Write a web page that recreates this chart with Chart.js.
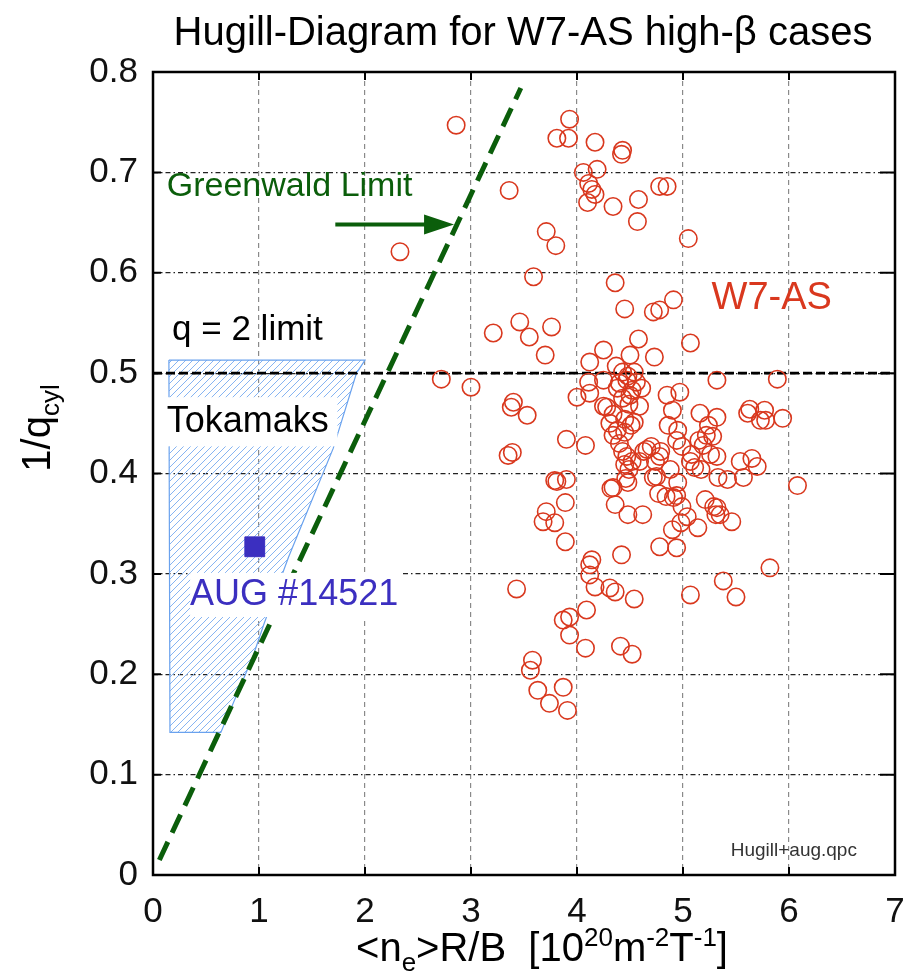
<!DOCTYPE html>
<html>
<head>
<meta charset="utf-8">
<script src="https://cdn.jsdelivr.net/npm/chart.js@4.4.0/dist/chart.umd.min.js"></script>
<style>
html, body { margin: 0; padding: 0; background: #fff; }
canvas { display: block; }
</style>
</head>
<body>
<canvas id="myChart" width="904" height="977"></canvas>
<script>
// W7-AS high-beta discharges
const w7as_x = [
  2.86, 3.93, 3.81, 3.92, 4.17, 4.43, 4.42, 4.06, 4.19, 4.11, 4.14, 4.17, 4.10, 4.34, 4.58, 4.57, 4.78, 4.85,
  3.36, 3.71, 3.80, 5.05, 2.33, 3.59, 4.36, 4.45, 4.72, 4.78, 4.91, 3.21, 3.46, 3.55, 3.76, 3.70, 4.58, 4.25,
  4.50, 4.73, 5.07, 4.12, 2.72, 3.00, 5.32, 5.89, 4.97,
  4.37, 4.43, 4.54, 4.47, 4.56, 4.38, 4.52, 4.61, 4.11, 4.25, 4.00, 4.12, 4.25, 4.43, 4.49, 4.59, 4.85, 4.48,
  4.40, 4.50, 4.28, 4.31, 4.34, 4.34, 4.45, 4.54, 4.38, 4.45, 4.51, 4.40,
  3.40, 3.38, 3.53, 3.90, 4.08, 3.35, 3.39,
  4.90, 5.16, 5.32, 5.61, 5.63, 5.77, 5.94, 5.73, 5.78, 4.86, 5.24, 4.95, 5.28, 4.94, 5.19, 5.15, 5.22, 4.70,
  4.79, 4.99, 4.66, 5.26, 5.08, 5.07, 5.11, 5.17, 5.32, 5.54, 5.70, 5.65, 5.33, 5.42, 5.57, 6.08,
  4.43, 4.47, 4.45, 4.52, 4.49, 4.59, 4.63, 4.74, 4.78, 4.48, 4.46, 4.34, 4.72, 4.75, 4.88, 4.95, 4.84, 4.77,
  4.91, 4.94, 5.21, 5.29, 5.32, 5.35, 5.31, 5.46, 4.99, 5.04, 4.98, 5.14, 4.90, 4.62, 4.48, 4.36, 4.32,
  3.79, 3.90, 3.81, 3.89, 3.71, 3.68, 3.79, 3.89, 4.78, 4.94, 4.42, 4.14, 5.82, 5.38, 4.12, 4.12, 4.17, 4.31,
  4.36, 3.43, 4.54, 5.07, 5.50, 4.09, 3.87, 3.93, 3.93, 4.08, 4.41, 4.52, 3.58, 3.56, 3.63, 3.87, 3.74, 3.91
]
const w7as_y = [
  0.747, 0.753, 0.734, 0.734, 0.730, 0.722, 0.718, 0.700, 0.703, 0.689, 0.683, 0.678, 0.670, 0.666, 0.673, 0.651, 0.686, 0.686,
  0.682, 0.641, 0.627, 0.634, 0.621, 0.596, 0.590, 0.564, 0.561, 0.563, 0.573, 0.540, 0.551, 0.536, 0.546, 0.518, 0.534, 0.523,
  0.518, 0.516, 0.530, 0.511, 0.494, 0.486, 0.493, 0.494, 0.481,
  0.507, 0.501, 0.501, 0.493, 0.491, 0.485, 0.483, 0.485, 0.491, 0.493, 0.476, 0.480, 0.467, 0.475, 0.469, 0.467, 0.478, 0.497,
  0.490, 0.478, 0.466, 0.450, 0.438, 0.459, 0.454, 0.451, 0.443, 0.441, 0.448, 0.430,
  0.471, 0.466, 0.458, 0.434, 0.428, 0.418, 0.421,
  0.463, 0.460, 0.456, 0.460, 0.464, 0.463, 0.455, 0.453, 0.453, 0.448, 0.448, 0.443, 0.437, 0.433, 0.428, 0.433, 0.438, 0.427,
  0.422, 0.427, 0.424, 0.419, 0.419, 0.412, 0.406, 0.404, 0.417, 0.412, 0.407, 0.415, 0.396, 0.394, 0.396, 0.388,
  0.422, 0.417, 0.409, 0.412, 0.404, 0.412, 0.422, 0.412, 0.417, 0.391, 0.395, 0.386, 0.396, 0.397, 0.404, 0.391, 0.377, 0.380,
  0.376, 0.378, 0.374, 0.367, 0.366, 0.359, 0.359, 0.352, 0.367, 0.357, 0.351, 0.346, 0.344, 0.359, 0.359, 0.369, 0.385,
  0.393, 0.394, 0.392, 0.371, 0.362, 0.352, 0.351, 0.332, 0.327, 0.326, 0.319, 0.314, 0.306, 0.293, 0.309, 0.299, 0.287, 0.286,
  0.282, 0.285, 0.275, 0.279, 0.277, 0.264, 0.254, 0.257, 0.239, 0.226, 0.228, 0.220, 0.214, 0.204, 0.184, 0.187, 0.171, 0.164
]

// AUG discharge #14521
const aug_x = [0.96]
const aug_y = [0.327]

// Greenwald limit line
const greenwald_x = [0.06, 3.47]
const greenwald_y = [0.015, 0.784]

// q = 2 limit
const q2_x = [0, 7]
const q2_y = [0.5, 0.5]

// tokamak operating region (closed outline)
const tok_x = [0.15, 2.0, 1.92, 1.70, 1.28, 1.05, 0.94, 0.64, 0.16, 0.15]
const tok_y = [0.513, 0.513, 0.500, 0.425, 0.317, 0.251, 0.217, 0.142, 0.142, 0.513]

const x_ticks = [0, 1, 2, 3, 4, 5, 6, 7]
const y_ticks = [0, 0.1, 0.2, 0.3, 0.4, 0.5, 0.6, 0.7, 0.8]

const FONT = 'Liberation Sans, Arial, Helvetica, sans-serif'
const GREEN = '#0b5e0b'
const RED = '#d9381e'
const BLUE = '#3b2fc0'

const pts = (xs, ys) => xs.map((v, i) => ({x: v, y: ys[i]}))

// hatch pattern for the tokamak region
const canvas = document.getElementById('myChart')
const ctx = canvas.getContext('2d')
const pat = document.createElement('canvas')
pat.width = 7
pat.height = 7
const pc = pat.getContext('2d')
pc.strokeStyle = '#86b4f2'
pc.lineWidth = 1
pc.beginPath()
pc.moveTo(0, 7); pc.lineTo(7, 0)
pc.moveTo(-1, 1); pc.lineTo(1, -1)
pc.moveTo(6, 8); pc.lineTo(8, 6)
pc.stroke()
const hatch = ctx.createPattern(pat, 'repeat')

// white boxes under labels [xmin, xmax, ymin, ymax]
const boxes = [
  [0.12, 1.74, 0.427, 0.476],
  [0.35, 2.35, 0.257, 0.301]
]

// free labels: text, x, y, colour, size
const notes = [
  ['Greenwald Limit', 0.13, 0.686, GREEN, 34],
  ['q = 2 limit', 0.18, 0.543, '#000', 35],
  ['Tokamaks', 0.13, 0.451, '#000', 36],
  ['AUG #14521', 0.35, 0.279, BLUE, 36],
  ['W7-AS', 5.27, 0.574, RED, 38],
  ['Hugill+aug.qpc', 5.45, 0.024, '#333', 19]
]

function drawPieces(c, pieces, x, y) {
  let cx = x
  pieces.forEach(p => {
    c.font = p[1] + 'px ' + FONT
    c.fillText(p[0], cx, y + p[2])
    cx += c.measureText(p[0]).width
  })
}
function piecesWidth(c, pieces) {
  let w = 0
  pieces.forEach(p => {
    c.font = p[1] + 'px ' + FONT
    w += c.measureText(p[0]).width
  })
  return w
}

const decor = {
  id: 'decor',
  afterDatasetsDraw(chart) {
    const {ctx, chartArea: a, scales: {x, y}} = chart
    ctx.save()
    ctx.fillStyle = '#fff'
    boxes.forEach(b => {
      const x0 = x.getPixelForValue(b[0]), x1 = x.getPixelForValue(b[1])
      const yt = y.getPixelForValue(b[3]), yb = y.getPixelForValue(b[2])
      ctx.fillRect(x0, yt, x1 - x0, yb - yt)
    })
    // inner ticks
    ctx.strokeStyle = '#000'
    ctx.lineWidth = 2
    ctx.beginPath()
    x_ticks.forEach(v => {
      const px = x.getPixelForValue(v)
      ctx.moveTo(px, a.bottom); ctx.lineTo(px, a.bottom - 8)
      ctx.moveTo(px, a.top); ctx.lineTo(px, a.top + 8)
    })
    y_ticks.forEach(v => {
      const py = y.getPixelForValue(v)
      ctx.moveTo(a.left, py); ctx.lineTo(a.left + 8, py)
      ctx.moveTo(a.right, py); ctx.lineTo(a.right - 15, py)
    })
    ctx.stroke()
    // frame
    ctx.lineWidth = 2.5
    ctx.strokeRect(a.left, a.top, a.right - a.left, a.bottom - a.top)
    ctx.restore()
  },
  afterDraw(chart) {
    const {ctx, chartArea: a, scales: {x, y}} = chart
    ctx.save()
    ctx.textBaseline = 'middle'
    ctx.textAlign = 'left'
    notes.forEach(n => {
      ctx.font = n[4] + 'px ' + FONT
      ctx.fillStyle = n[3]
      ctx.fillText(n[0], x.getPixelForValue(n[1]), y.getPixelForValue(n[2]))
    })
    // arrow pointing at the Greenwald line
    const ax0 = x.getPixelForValue(1.72), ax1 = x.getPixelForValue(2.84)
    const ay = y.getPixelForValue(0.648)
    ctx.strokeStyle = GREEN
    ctx.fillStyle = GREEN
    ctx.lineWidth = 4
    ctx.beginPath()
    ctx.moveTo(ax0, ay); ctx.lineTo(ax1 - 25, ay)
    ctx.stroke()
    ctx.beginPath()
    ctx.moveTo(ax1, ay); ctx.lineTo(ax1 - 30, ay - 10); ctx.lineTo(ax1 - 30, ay + 10)
    ctx.closePath()
    ctx.fill()

    // title
    ctx.fillStyle = '#000'
    ctx.textAlign = 'center'
    ctx.textBaseline = 'alphabetic'
    ctx.font = '40px ' + FONT
    ctx.fillText('Hugill-Diagram for W7-AS high-\u03b2 cases', 523, 45)

    // x axis title with sub/superscripts
    ctx.textAlign = 'left'
    const xt = [
      ['<n', 40, 0], ['e', 26, 10], ['>R/B  [10', 40, 0], ['20', 26, -15], ['m', 40, 0],
      ['-2', 26, -15], ['T', 40, 0], ['-1', 26, -15], [']', 40, 0]
    ]
    const xw = piecesWidth(ctx, xt)
    drawPieces(ctx, xt, 542 - xw / 2, 961)

    // y axis title
    ctx.translate(50, 428)
    ctx.rotate(-Math.PI / 2)
    const yt = [['1/q', 40, 0], ['cyl', 26, 9]]
    const yw = piecesWidth(ctx, yt)
    drawPieces(ctx, yt, -yw / 2, 0)
    ctx.restore()
  }
}

const chart = new Chart(ctx, {
  type: 'scatter',
  data: {
    datasets: [
      {
        label: 'Tokamaks',
        type: 'line',
        data: pts(tok_x, tok_y),
        borderColor: '#6aa2ee',
        borderWidth: 1.2,
        backgroundColor: hatch,
        fill: 'shape',
        pointRadius: 0,
        tension: 0,
        order: 10
      },
      {
        label: 'q = 2 limit',
        type: 'line',
        data: pts(q2_x, q2_y),
        borderColor: '#000',
        borderWidth: 2.6,
        borderDash: [9, 4],
        pointRadius: 0,
        fill: false,
        order: 5
      },
      {
        label: 'Greenwald',
        type: 'line',
        data: pts(greenwald_x, greenwald_y),
        borderColor: GREEN,
        borderWidth: 5,
        borderDash: [20, 10],
        borderCapStyle: 'butt',
        pointRadius: 0,
        fill: false,
        order: 4
      },
      {
        label: 'W7-AS',
        data: pts(w7as_x, w7as_y),
        pointStyle: 'circle',
        pointRadius: 8.7,
        pointBorderWidth: 1.6,
        borderColor: RED,
        backgroundColor: 'rgba(0,0,0,0)',
        order: 2
      },
      {
        label: 'AUG #14521',
        data: pts(aug_x, aug_y),
        pointStyle: 'rect',
        pointRadius: 14,
        borderColor: BLUE,
        backgroundColor: BLUE,
        order: 1
      }
    ]
  },
  options: {
    responsive: false,
    animation: false,
    layout: {autoPadding: false, padding: {top: 72, right: 9, left: 0, bottom: 0}},
    plugins: {legend: {display: false}, tooltip: {enabled: false}, title: {display: false}},
    scales: {
      x: {
        type: 'linear',
        min: 0,
        max: 7,
        afterFit: s => { s.height = 102; s.paddingLeft = 0; s.paddingRight = 0 },
        afterBuildTicks: s => { s.ticks = x_ticks.map(v => ({value: v})) },
        ticks: {font: {family: FONT, size: 35}, color: '#111', padding: 16, maxRotation: 0, autoSkip: false},
        grid: {color: '#8a8a8a', lineWidth: 1.2, drawTicks: false},
        border: {display: false, dash: [5, 4]}
      },
      y: {
        type: 'linear',
        min: 0,
        max: 0.8,
        afterFit: s => { s.width = 153; s.paddingTop = 0; s.paddingBottom = 0 },
        afterBuildTicks: s => { s.ticks = y_ticks.map(v => ({value: v})) },
        ticks: {font: {family: FONT, size: 35}, color: '#111', padding: 15, autoSkip: false},
        grid: {color: '#222', lineWidth: 1.2, drawTicks: false},
        border: {display: false, dash: [5, 3, 1.5, 3]}
      }
    }
  },
  plugins: [decor]
})
</script>
</body>
</html>
